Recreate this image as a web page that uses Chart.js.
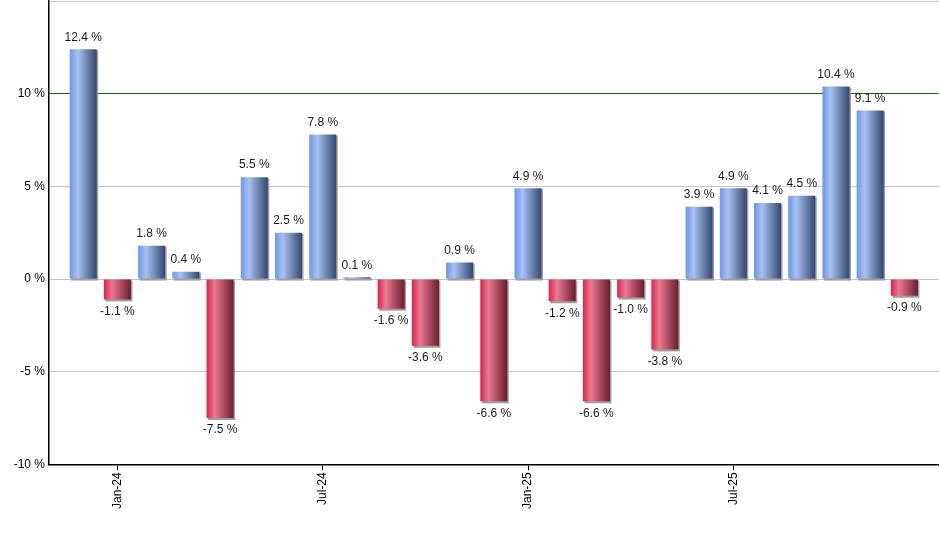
<!DOCTYPE html>
<html>
<head>
<meta charset="utf-8">
<script src="https://cdn.jsdelivr.net/npm/chart.js@4.4.1/dist/chart.umd.min.js"></script>
<style>
  html, body { margin: 0; padding: 0; background: #fff; overflow: hidden; }
  /* canvas a bit larger than the window so the plot reaches the top and right edges */
  #wrap { width: 955px; height: 559px; position: absolute; left: 0; top: -10px; }
</style>
</head>
<body>
<div id="wrap"><canvas id="returns-chart"></canvas></div>
<script>
// months on the axis (empty slot before first and after last bar)
const months = ['Nov-23', 'Dec-23', 'Jan-24', 'Feb-24', 'Mar-24', 'Apr-24', 'May-24', 'Jun-24',
  'Jul-24', 'Aug-24', 'Sep-24', 'Oct-24', 'Nov-24', 'Dec-24', 'Jan-25', 'Feb-25', 'Mar-25',
  'Apr-25', 'May-25', 'Jun-25', 'Jul-25', 'Aug-25', 'Sep-25', 'Oct-25', 'Nov-25', 'Dec-25', 'Jan-26'];
const monthlyReturns = [null, 12.4, -1.1, 1.8, 0.4, -7.5, 5.5, 2.5, 7.8, 0.1, -1.6, -3.6, 0.9, -6.6,
  4.9, -1.2, -6.6, -1.0, -3.8, 3.9, 4.9, 4.1, 4.5, 10.4, 9.1, -0.9, null];
const shownTicks = ['Jan-24', 'Jul-24', 'Jan-25', 'Jul-25'];
const yTicks = [-10, -5, 0, 5, 10, 15];

const BAR_PCT = 0.79;
const ctx = document.getElementById('returns-chart').getContext('2d');

function barGradient(c) {
  const chart = c.chart;
  const xScale = chart.scales.x;
  const v = monthlyReturns[c.dataIndex];
  if (!xScale || v === null || v === undefined) return '#6d96e8';
  const center = xScale.getPixelForValue(c.dataIndex);
  const half = ((xScale.getPixelForValue(1) - xScale.getPixelForValue(0)) * BAR_PCT) / 2;
  const g = chart.ctx.createLinearGradient(center - half, 0, center + half, 0);
  if (v >= 0) {
    g.addColorStop(0, '#6d96e8');
    g.addColorStop(0.3, '#a7c1f3');
    g.addColorStop(1, '#33466e');
  } else {
    g.addColorStop(0, '#df2149');
    g.addColorStop(0.3, '#e87a91');
    g.addColorStop(1, '#6a1c2c');
  }
  return g;
}

// small gray shadow behind each bar, value labels on top
const barStyle = {
  id: 'barStyle',
  beforeDatasetsDraw(chart) {
    const c = chart.ctx;
    const meta = chart.getDatasetMeta(0);
    c.save();
    c.fillStyle = '#a0a0a0';
    meta.data.forEach((bar, i) => {
      if (monthlyReturns[i] === null) return;
      const left = bar.x - bar.width / 2;
      const top = Math.min(bar.y, bar.base);
      const bottom = Math.max(bar.y, bar.base);
      c.fillRect(left + 1.5, top + 1, bar.width, bottom - top + 1);
    });
    c.restore();
  },
  afterDatasetsDraw(chart) {
    const c = chart.ctx;
    const meta = chart.getDatasetMeta(0);
    c.save();
    c.font = '12px "Liberation Sans", Arial, sans-serif';
    c.fillStyle = '#1a1a1a';
    c.textAlign = 'center';
    meta.data.forEach((bar, i) => {
      const v = monthlyReturns[i];
      if (v === null) return;
      const txt = v.toFixed(1) + ' %';
      if (v >= 0) {
        c.textBaseline = 'bottom';
        c.fillText(txt, bar.x, bar.y - 6);
      } else {
        c.textBaseline = 'top';
        c.fillText(txt, bar.x, bar.y + 6);
      }
    });
    c.restore();
  }
};

new Chart(ctx, {
  type: 'bar',
  data: {
    labels: months,
    datasets: [
      {
        data: monthlyReturns,
        backgroundColor: barGradient,
        borderWidth: 0,
        barPercentage: BAR_PCT,
        categoryPercentage: 1,
      },
    ],
  },
  options: {
    responsive: true,
    maintainAspectRatio: false,
    animation: false,
    layout: { padding: { top: 0, right: 0, bottom: 38, left: 0 } },
    plugins: {
      legend: { display: false },
      tooltip: { enabled: false },
    },
    scales: {
      x: {
        offset: false,
        grid: {
          offset: false,
          drawOnChartArea: false,
          drawTicks: true,
          tickLength: 6,
          color: (c) => (c.tick && shownTicks.includes(months[c.tick.value]) ? '#000' : 'rgba(0,0,0,0)'),
        },
        border: { color: '#000', width: 1.5 },
        ticks: {
          autoSkip: false,
          maxRotation: 90,
          minRotation: 90,
          padding: 2,
          color: '#000',
          font: { family: '"Liberation Sans", Arial, sans-serif', size: 12 },
          callback: (value) => (shownTicks.includes(months[value]) ? months[value] : ''),
        },
      },
      y: {
        min: -10,
        max: 15,
        afterBuildTicks: (axis) => {
          axis.ticks = yTicks.map((v) => ({ value: v }));
        },
        afterFit: (axis) => {
          axis.width = 49;
        },
        grid: {
          drawTicks: false,
          lineWidth: 1,
          color: (c) => (c.tick && c.tick.value === 10 ? '#0a6a0a' : '#c4c4c4'),
        },
        border: { color: '#000', width: 1.5 },
        ticks: {
          padding: 4,
          color: '#000',
          font: { family: '"Liberation Sans", Arial, sans-serif', size: 12 },
          callback: (value) => (value === 15 ? '' : value + ' %'),
        },
      },
    },
  },
  plugins: [barStyle],
});
</script>
</body>
</html>
